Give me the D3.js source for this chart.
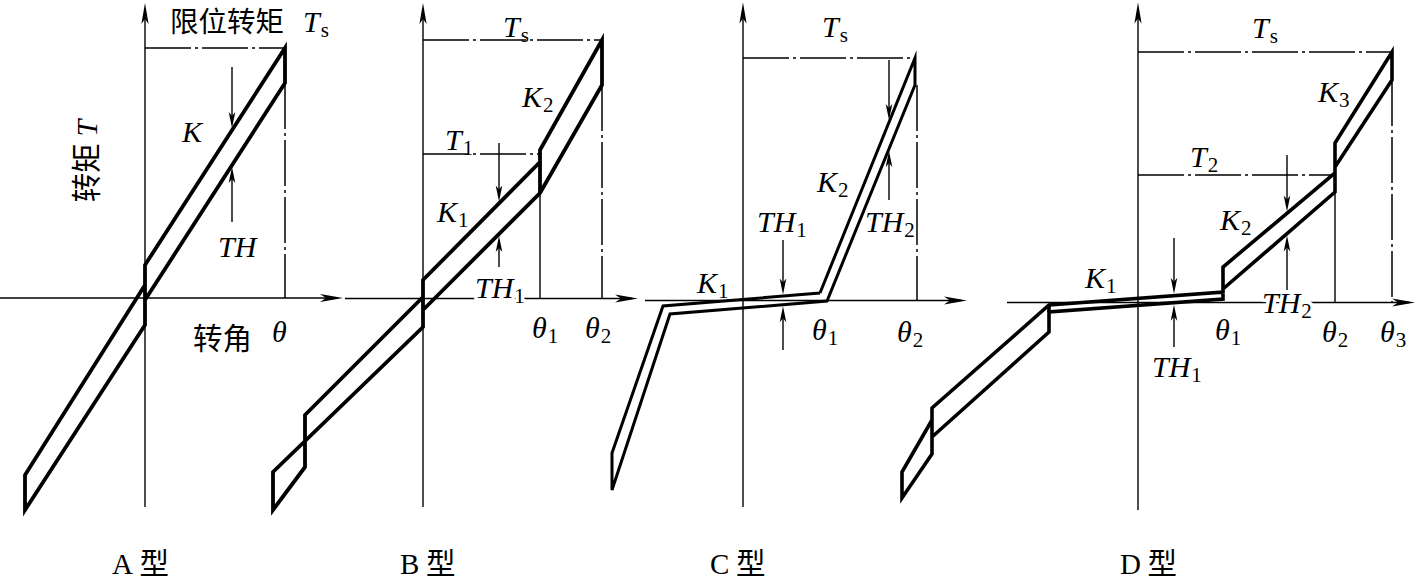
<!DOCTYPE html>
<html><head><meta charset="utf-8">
<script src="https://cdn.jsdelivr.net/npm/d3@7"></script>
<style>
body{margin:0;background:#fff;}
svg{display:block;}
</style></head><body>
<svg id="chart" width="1417" height="581"></svg>
<script>
// ---------------- data (θ, T in drawing units, T positive upward) ----------------
const panelNames = ["A", "B", "C", "D"];

// hysteresis loops: list of polylines
const loopA = [
  [[0,-2],[140,215],[140,250],[0,33],[0,-27],[-120,-212],[-120,-177],[0,13]]
];
const loopB = [
  [[0,-11.5],[117,105.5],[179,213.5],[179,258.5],[117,148.5],[117,136.5],[0,18.5],[0,-28.5],
   [-150,-173.5],[-150,-211.5],[-118,-168.5],[-118,-116.5],[0,1.5]],
  [[117,136.5],[117,105.5]]
];
const loopC = [
  [[77,7.5],[172,242.5],[172,215.5],[84,-0.5],[-73,-13.5],[-131,-189.5],[-131,-152.5],[-80,-5.5],[77,7.5]]
];
const loopD = [
  [[-206,-117.5],[-236,-169.5],[-236,-195.5],[-206,-151.5],[-206,-105.5],[-89,-2.5],[85,10.5],[85,35.5],
   [197,129.5],[197,159.5],[254,250.5],[254,222.5],[197,135.5],[197,110.5],[85,13.5],[85,3.5],
   [-89,-9.5],[-89,-29.5],[-206,-134.5]],
  [[-89,-2.5],[-89,-9.5]]
];

// reference lines [θ1, T1, θ2, T2]
const refDashA = [[0,250,140,250],[140,215,140,0]];
const refDashB = [[0,258.5,179,258.5],[0,144.5,117,144.5],[179,213.5,179,0]];
const refSolidB = [[117,105.5,117,0]];
const refDashC = [[0,242.5,172,242.5],[174,215.5,174,0]];
const refDashD = [[0,250.5,254,250.5],[0,127.5,197,127.5],[254,222.5,254,0]];
const refSolidD = [[197,110.5,197,0]];

// hysteresis-width arrows [θ, start T, tip T]
const arrowsA = [[87,231,170],[87,76,131]];
const arrowsB = [[76,155.5,97],[76,31.5,62.5]];
const arrowsC = [[146,240.5,180.5],[146,100.5,149.5],[40,60.5,6],[40,-49.5,-5.7]];
const arrowsD = [[149,147.5,91],[149,12.5,67],[36,64.5,8.8],[36,-44.5,-2.2]];

// axis extents [min, max] in θ and T units
const axisThetaExt = [[-145,198],[-78,215],[-98,224],[-131,277]];
const axisTorqueExt = [[-209,295],[-208.5,295.5],[-206.5,298],[-207.5,300]];

// ---------------- layout ----------------
const origins = [[145,298],[423,298.5],[743,300.5],[1138,302.5]];
const latin = "'Liberation Serif','Times New Roman',serif";
const cjk = "'Noto Sans CJK SC','Noto Sans CJK JP',sans-serif";

// label specs: parts [text, kind], kind: i=italic, u=upright serif, c=cjk, s=subscript
const labels = [
  [ {p:[["限位转矩","c"]], at:[25,266], size:28.5},
    {p:[["T","i"],["s","s"]], at:[158,266]},
    {p:[["K","i"]], at:[37,156]},
    {p:[["TH","i"]], at:[73,41]},
    {p:[["转角","c"]], at:[48,-51]},
    {p:[["θ","i"]], at:[127,-44]},
    {p:[["A","u"],[" 型","c"]], at:[-33,-276]} ],
  [ {p:[["T","i"],["s","s"]], at:[80,261.5]},
    {p:[["K","i"],["2","s"]], at:[99,191.5]},
    {p:[["T","i"],["1","s"]], at:[22,148.5]},
    {p:[["K","i"],["1","s"]], at:[14,76.5]},
    {p:[["TH","i"],["1","s"]], at:[52,0.5], halo:true},
    {p:[["θ","i"],["1","s"]], at:[109,-39.5]},
    {p:[["θ","i"],["2","s"]], at:[162,-39.5]},
    {p:[["B","u"],[" 型","c"]], at:[-23,-275.5]} ],
  [ {p:[["T","i"],["s","s"]], at:[79,263.5]},
    {p:[["K","i"],["2","s"]], at:[74,108.5]},
    {p:[["TH","i"],["2","s"]], at:[122,68.5]},
    {p:[["TH","i"],["1","s"]], at:[14,68.5]},
    {p:[["K","i"],["1","s"]], at:[-46,7.5]},
    {p:[["θ","i"],["1","s"]], at:[69,-39.5]},
    {p:[["θ","i"],["2","s"]], at:[154,-41.5]},
    {p:[["C","u"],[" 型","c"]], at:[-33,-273.5]} ],
  [ {p:[["T","i"],["s","s"]], at:[114,264.5]},
    {p:[["K","i"],["3","s"]], at:[180,200.5]},
    {p:[["T","i"],["2","s"]], at:[52,135.5]},
    {p:[["K","i"],["2","s"]], at:[82,72.5]},
    {p:[["K","i"],["1","s"]], at:[-53,14.5]},
    {p:[["θ","i"],["1","s"]], at:[77,-37.5]},
    {p:[["θ","i"],["2","s"]], at:[184,-39.5]},
    {p:[["θ","i"],["3","s"]], at:[242,-39.5]},
    {p:[["TH","i"],["1","s"]], at:[14,-74.5]},
    {p:[["TH","i"],["2","s"]], at:[124,-10.5], halo:true},
    {p:[["D","u"],[" 型","c"]], at:[-18,-271.5]} ]
];

const loops = [loopA, loopB, loopC, loopD];
const dashes = [refDashA, refDashB, refDashC, refDashD];
const solids = [[], refSolidB, [], refSolidD];
const arrows = [arrowsA, arrowsB, arrowsC, arrowsD];
const loopWidth = [3.8, 3.8, 3.0, 3.6];

const svg = d3.select("#chart");
svg.append("rect").attr("width",1417).attr("height",581).attr("fill","#fff");

panelNames.forEach((nm, i) => {
  const [ox, oy] = origins[i];
  const x = d3.scaleLinear().domain([0,100]).range([ox, ox+100]);
  const y = d3.scaleLinear().domain([0,100]).range([oy, oy-100]);
  const g = svg.append("g");
  const line = d3.line().x(d => x(d[0])).y(d => y(d[1]));

  // axes
  const [t0,t1] = axisThetaExt[i], [q0,q1] = axisTorqueExt[i];
  g.append("line").attr("x1",x(t0)).attr("x2",x(t1)-6).attr("y1",y(0)).attr("y2",y(0))
    .attr("stroke","#000").attr("stroke-width",1.4);
  g.append("line").attr("x1",x(0)).attr("x2",x(0)).attr("y1",y(q0)).attr("y2",y(q1)+6)
    .attr("stroke","#000").attr("stroke-width",1.4);
  const xt = x(t1), yt = y(0);
  g.append("path").attr("d",`M${xt},${yt} L${xt-23},${yt-4} L${xt-17},${yt} L${xt-23},${yt+4} Z`).attr("fill","#000");
  const ax = x(0), ay = y(q1);
  g.append("path").attr("d",`M${ax},${ay} L${ax-3.6},${ay+21} L${ax},${ay+16} L${ax+3.6},${ay+21} Z`).attr("fill","#000");

  // reference lines
  dashes[i].forEach(r => g.append("line")
    .attr("x1",x(r[0])).attr("y1",y(r[1])).attr("x2",x(r[2])).attr("y2",y(r[3]))
    .attr("stroke","#000").attr("stroke-width",1.5).attr("stroke-dasharray","46,4,3,4"));
  solids[i].forEach(r => g.append("line")
    .attr("x1",x(r[0])).attr("y1",y(r[1])).attr("x2",x(r[2])).attr("y2",y(r[3]))
    .attr("stroke","#000").attr("stroke-width",1.4));

  // loops
  loops[i].forEach(pl => g.append("path").attr("d", line(pl))
    .attr("fill","none").attr("stroke","#000").attr("stroke-width",loopWidth[i])
    .attr("stroke-linejoin","miter").attr("stroke-miterlimit",6));

  // arrows
  arrows[i].forEach(a => {
    const X = x(a[0]), Y0 = y(a[1]), Y1 = y(a[2]);
    const dir = Y1 > Y0 ? 1 : -1;
    g.append("line").attr("x1",X).attr("x2",X).attr("y1",Y0).attr("y2",Y1 - dir*8)
      .attr("stroke","#000").attr("stroke-width",1.4);
    g.append("path").attr("d",`M${X},${Y1} L${X-3.3},${Y1-dir*16} L${X},${Y1-dir*12} L${X+3.3},${Y1-dir*16} Z`)
      .attr("fill","#000");
  });

  // labels
  labels[i].forEach(lb => {
    const t = g.append("text").attr("x", x(lb.at[0])).attr("y", y(lb.at[1]));
    if (lb.halo) t.attr("stroke","#fff").attr("stroke-width",7).attr("paint-order","stroke").attr("stroke-linejoin","round");
    lb.p.forEach(([s,k]) => {
      const ts = t.append("tspan").text(s);
      if (k === "i") ts.attr("font-family",latin).attr("font-style","italic").attr("font-size",30);
      else if (k === "u") ts.attr("font-family",latin).attr("font-size",29);
      else if (k === "c") ts.attr("font-family",cjk).attr("font-size",lb.size || 29.5);
      else if (k === "s") ts.attr("font-family",latin).attr("font-size",21).attr("dy",5).attr("dx",1);
    });
  });
});

// rotated y-axis title of panel A
{
  const [ox, oy] = origins[0];
  const x = d3.scaleLinear().domain([0,100]).range([ox, ox+100]);
  const y = d3.scaleLinear().domain([0,100]).range([oy, oy-100]);
  const t = svg.append("text")
    .attr("transform",`translate(${x(-48)},${y(137)}) rotate(-90)`)
    .attr("text-anchor","middle");
  t.append("tspan").text("转矩 ").attr("font-family",cjk).attr("font-size",29.5);
  t.append("tspan").text("T").attr("font-family",latin).attr("font-style","italic").attr("font-size",30);
}
</script>
</body></html>
